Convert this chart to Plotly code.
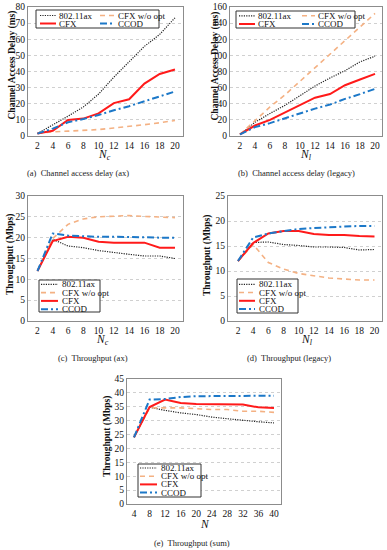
import plotly.graph_objects as go

# ---------------- data ----------------
series_names = ["802.11ax", "CFX w/o opt", "CFX", "CCOD"]
x_nodes = [2, 4, 6, 8, 10, 12, 14, 16, 18, 20]
x_total = [4, 8, 12, 16, 20, 24, 28, 32, 36, 40]

# (a) Channel access delay (ax), ms
delay_ax_80211ax = [1.5, 6.7, 12.3, 18, 26, 36.5, 45.8, 55.6, 63, 73.3]
delay_ax_cfx_noopt = [1.5, 2.6, 3.0, 3.3, 4.0, 5.0, 5.8, 7.0, 8.2, 9.6]
delay_ax_cfx = [1.5, 3.2, 10, 10.8, 14, 20.4, 22.8, 32.5, 38.5, 41.2]
delay_ax_ccod = [1.5, 4.6, 8.5, 10.5, 13, 16, 18.5, 21.5, 24.5, 27.6]

# (b) Channel access delay (legacy), ms
delay_lg_80211ax = [2, 17, 28, 38, 50, 62, 72, 81, 92, 99]
delay_lg_cfx_noopt = [2, 19, 36, 51, 68, 84, 101, 118, 135, 152]
delay_lg_cfx = [2, 13, 20, 29, 39, 47.5, 52, 63, 70, 77]
delay_lg_ccod = [2, 11, 16, 22, 28, 34, 39, 46, 52, 58.5]

# (c) Throughput (ax), Mbps
thr_ax_80211ax = [12, 19.6, 18, 17.6, 16.9, 16.4, 16.0, 15.6, 15.6, 15.0]
thr_ax_cfx_noopt = [12, 19.8, 23.2, 24.5, 25.0, 25.2, 25.3, 25.1, 25.0, 24.8]
thr_ax_cfx = [12, 19.2, 20.2, 20.0, 19.0, 18.8, 18.8, 18.8, 17.6, 17.6]
thr_ax_ccod = [12, 21.0, 20.5, 20.3, 20.2, 20.2, 20.2, 20.1, 20.0, 20.0]

# (d) Throughput (legacy), Mbps
thr_lg_80211ax = [12, 15.7, 15.8, 15.3, 15.1, 14.8, 14.8, 14.7, 14.2, 14.3]
thr_lg_cfx_noopt = [12, 15.3, 11.7, 10.4, 9.5, 9.0, 8.6, 8.4, 8.2, 8.2]
thr_lg_cfx = [12, 15.6, 17.5, 18.0, 18.0, 17.4, 17.2, 17.2, 17.0, 16.9]
thr_lg_ccod = [12, 16.7, 17.5, 18.0, 18.4, 18.6, 18.8, 18.9, 19.0, 19.0]

# (e) Throughput (sum), Mbps
thr_sum_80211ax = [24, 34.8, 33.7, 32.8, 32.2, 31.3, 30.7, 30.1, 29.6, 29.2]
thr_sum_cfx_noopt = [24, 34.6, 34.6, 34.6, 34.3, 34.0, 34.0, 33.4, 33.4, 33.0]
thr_sum_cfx = [24, 34.9, 37.6, 36.4, 36.0, 36.0, 35.8, 35.8, 34.8, 34.6]
thr_sum_ccod = [24, 37.6, 37.8, 38.5, 38.8, 38.8, 39.0, 39.0, 39.0, 39.0]

y_titles = ["Channel Access Delay (ms)", "Channel Access Delay (ms)",
            "Throughput (Mbps)", "Throughput (Mbps)", "Throughput (Mbps)"]
x_titles = ["<i>N</i><sub><i>c</i></sub>", "<i>N</i><sub><i>l</i></sub>",
            "<i>N</i><sub><i>c</i></sub>", "<i>N</i><sub><i>l</i></sub>", "<i>N</i>"]
captions = ["(a)  Channel access delay (ax)", "(b)  Channel access delay (legacy)",
            "(c)  Throughput (ax)", "(d)  Throughput (legacy)", "(e)  Throughput (sum)"]

# ---------------- styles ----------------
W, H = 387, 550
FONT = "Liberation Serif"
styles = [
    dict(color="#222222", width=1.2, dash="1.2px,1.2px"),
    dict(color="#f4b183", width=1.6, dash="5px,4px"),
    dict(color="#ff1a1a", width=2.0, dash="solid"),
    dict(color="#1c78c8", width=2.0, dash="7px,3px,2px,3px"),
]

def px_x(p):
    return p / W

def px_y(p):
    return 1 - p / H

panels = [
    dict(x=x_nodes, ys=[delay_ax_80211ax, delay_ax_cfx_noopt, delay_ax_cfx, delay_ax_ccod],
         dom=(28, 183, 7, 136), xr=[0.76, 21.05], yr=[0, 80], dy=10, dx=2,
         ytitle_pos=(12.5, 65), xtitle_pos=(104, 154.5), cap_pos=(78, 173)),
    dict(x=x_nodes, ys=[delay_lg_80211ax, delay_lg_cfx_noopt, delay_lg_cfx, delay_lg_ccod],
         dom=(230, 382, 7, 136), xr=[0.67, 20.93], yr=[0, 160], dy=20, dx=2,
         ytitle_pos=(214.5, 66), xtitle_pos=(306, 154.5), cap_pos=(296, 173)),
    dict(x=x_nodes, ys=[thr_ax_80211ax, thr_ax_cfx_noopt, thr_ax_cfx, thr_ax_ccod],
         dom=(28, 183, 196, 321), xr=[0.76, 21.05], yr=[0, 30], dy=5, dx=2,
         ytitle_pos=(10, 255), xtitle_pos=(102, 340), cap_pos=(93, 358)),
    dict(x=x_nodes, ys=[thr_lg_80211ax, thr_lg_cfx_noopt, thr_lg_cfx, thr_lg_ccod],
         dom=(228, 382, 196, 321), xr=[0.68, 20.99], yr=[0, 25], dy=5, dx=2,
         ytitle_pos=(207, 255), xtitle_pos=(307, 340), cap_pos=(289, 358)),
    dict(x=x_total, ys=[thr_sum_80211ax, thr_sum_cfx_noopt, thr_sum_cfx, thr_sum_ccod],
         dom=(127, 281, 379, 504), xr=[2.2, 41.8], yr=[0, 45], dy=5, dx=4,
         ytitle_pos=(107, 436), xtitle_pos=(205, 524), cap_pos=(192, 543)),
]

# legends: box (x0,x1,y0,y1), entries (sample_x0, sample_x1, text_x, y) in pixels
legends = [
    dict(box=(36, 159, 10, 28), items=[(40, 56, 57, 15.5), (100, 115, 116, 15.5),
                                       (40, 56, 57, 23.5), (100, 115, 116, 23.5)]),
    dict(box=(236, 355, 11, 28), items=[(239, 255, 256, 15.8), (302, 315, 315.5, 15.8),
                                        (239, 255, 256, 24), (302, 315, 315.5, 24)]),
    dict(box=(39, 100, 280, 312), items=[(41, 58, 59.5, 284.3), (41, 58, 59.5, 292.6),
                                         (41, 58, 59.5, 300.9), (41, 58, 59.5, 309.2)]),
    dict(box=(237, 298, 279, 313), items=[(239, 255, 257, 284.3), (239, 255, 257, 292.5),
                                          (239, 255, 257, 300.8), (239, 255, 257, 309.1)]),
    dict(box=(138, 201, 464, 497), items=[(140, 157, 158.5, 468), (140, 157, 158.5, 476.2),
                                          (140, 157, 158.5, 484.4), (140, 157, 158.5, 492.6)]),
]

fig = go.Figure()
layout = dict(
    template="none",
    width=W, height=H, margin=dict(l=0, r=0, t=0, b=0, pad=0, autoexpand=False),
    paper_bgcolor="white", plot_bgcolor="white", showlegend=False,
    font=dict(family=FONT, size=10, color="#111111"),
)
shapes = []
annotations = []

for i, p in enumerate(panels):
    n = i + 1
    xa = "x" if n == 1 else f"x{n}"
    ya = "y" if n == 1 else f"y{n}"
    for s, name in enumerate(series_names):
        st = styles[s]
        fig.add_trace(go.Scatter(
            x=p["x"], y=p["ys"][s], mode="lines", name=name,
            line=dict(color=st["color"], width=st["width"], dash=st["dash"]),
            xaxis=xa, yaxis=ya, showlegend=False, hoverinfo="skip"))
    x0, x1, y0, y1 = p["dom"]
    layout[f"xaxis{'' if n == 1 else n}"] = dict(
        domain=[px_x(x0), px_x(x1)], range=p["xr"], anchor=ya, automargin=False,
        tickmode="linear", tick0=p["dx"], dtick=p["dx"],
        showgrid=False, zeroline=False, showline=True, mirror=True,
        linecolor="#8c8c8c", linewidth=1.4, ticks="", fixedrange=True,
        tickfont=dict(family=FONT, size=9.5, color="#111111"))
    layout[f"yaxis{'' if n == 1 else n}"] = dict(
        domain=[px_y(y1), px_y(y0)], range=p["yr"], anchor=xa, automargin=False,
        tickmode="linear", tick0=0, dtick=p["dy"],
        showgrid=True, gridcolor="#d0d0d0", griddash="dot", gridwidth=1,
        zeroline=False, showline=True, mirror=True,
        linecolor="#8c8c8c", linewidth=1.4, ticks="", fixedrange=True,
        tickfont=dict(family=FONT, size=9.5, color="#111111"))

    tx, ty = p["ytitle_pos"]
    annotations.append(dict(text=f"<b>{y_titles[i]}</b>", x=px_x(tx), y=px_y(ty),
                            xref="paper", yref="paper", showarrow=False, textangle=-90,
                            xanchor="center", yanchor="middle",
                            font=dict(family=FONT, size=9.5, color="#111111")))
    tx, ty = p["xtitle_pos"]
    annotations.append(dict(text=x_titles[i], x=px_x(tx), y=px_y(ty),
                            xref="paper", yref="paper", showarrow=False,
                            xanchor="center", yanchor="middle",
                            font=dict(family=FONT, size=11.5, color="#111111")))
    tx, ty = p["cap_pos"]
    annotations.append(dict(text=captions[i], x=px_x(tx), y=px_y(ty),
                            xref="paper", yref="paper", showarrow=False,
                            xanchor="center", yanchor="middle",
                            font=dict(family=FONT, size=8.5, color="#222222")))

    lg = legends[i]
    bx0, bx1, by0, by1 = lg["box"]
    shapes.append(dict(type="rect", xref="paper", yref="paper",
                       x0=px_x(bx0), x1=px_x(bx1), y0=px_y(by1), y1=px_y(by0),
                       line=dict(color="#333333", width=1), fillcolor="white", layer="above"))
    for s, (sx0, sx1, txx, yy) in enumerate(lg["items"]):
        st = styles[s]
        shapes.append(dict(type="line", xref="paper", yref="paper",
                           x0=px_x(sx0), x1=px_x(sx1), y0=px_y(yy), y1=px_y(yy),
                           line=dict(color=st["color"], width=st["width"], dash=st["dash"]),
                           layer="above"))
        annotations.append(dict(text=series_names[s], x=px_x(txx), y=px_y(yy),
                                xref="paper", yref="paper", showarrow=False,
                                xanchor="left", yanchor="middle",
                                font=dict(family=FONT, size=9, color="#111111")))

layout["shapes"] = shapes
layout["annotations"] = annotations
fig.update_layout(**layout)
fig.write_html("out.html", config=dict(displayModeBar=False),
               post_script="document.body.style.margin='0';document.body.style.padding='0';")
